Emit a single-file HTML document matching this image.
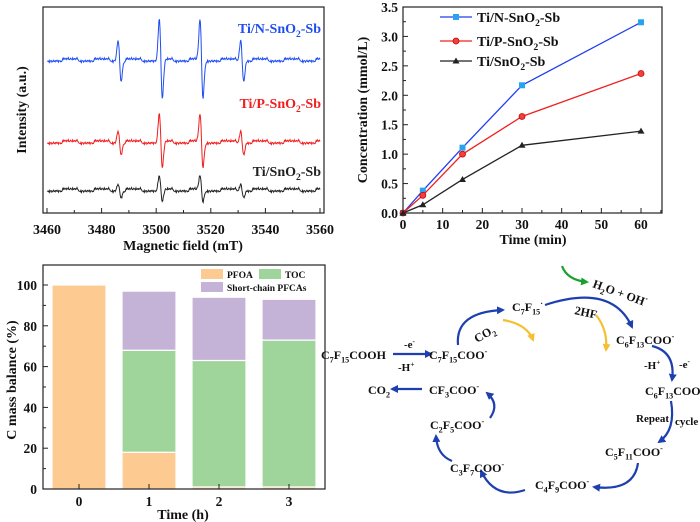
<!DOCTYPE html>
<html><head><meta charset="utf-8"><style>
html,body{margin:0;padding:0;background:#fff}
svg{display:block;font-family:"Liberation Serif",serif;font-weight:bold}
</style></head><body>
<svg id="fig" width="700" height="522" viewBox="0 0 700 522" xmlns="http://www.w3.org/2000/svg">
<defs>
<marker id="ab" markerWidth="8" markerHeight="8" refX="6" refY="4" orient="auto" markerUnits="userSpaceOnUse"><path d="M0,0 L8,4 L0,8 Z" fill="#1d3fb0"/></marker>
<marker id="ay" markerWidth="8" markerHeight="8" refX="6" refY="4" orient="auto" markerUnits="userSpaceOnUse"><path d="M0,0 L8,4 L0,8 Z" fill="#f5c030"/></marker>
<marker id="ag" markerWidth="8" markerHeight="8" refX="6" refY="4" orient="auto" markerUnits="userSpaceOnUse"><path d="M0,0 L8,4 L0,8 Z" fill="#1aa030"/></marker>
</defs>
<g id="epr"></g>
<g id="conc"></g>
<g id="bal"></g>
<g id="mech"></g>
</svg>
<script>
// ---- EPR data ----
const eprPeaks = [3486.6, 3501.7, 3516.6, 3531.5];
const eprSeries = ['Ti/N-SnO2-Sb','Ti/P-SnO2-Sb','Ti/SnO2-Sb'];
const eprAmpN = [0.52, 1.0, 1.0, 0.52];
const eprAmpP = [0.30, 0.68, 0.68, 0.30];
const eprAmpS = [0.17, 0.32, 0.34, 0.17];
const eprOffsets = [3.25, 1.2, 0];
const eprNoise = [0.05,-0.04,0.07,-0.06,0.02,-0.08,0.06,-0.02,0.04,-0.07,0.08,-0.03,0.01,-0.05,0.06,-0.06,0.03,-0.01,0.07,-0.04,0.02,-0.07,0.05,-0.03,0.04,-0.06,0.08,-0.05,0.01];
const eprTicks = [3460,3480,3500,3520,3540,3560];
// ---- Concentration data ----
const concTime = [0,5,15,30,60];
const concN = [0,0.38,1.11,2.17,3.24];
const concP = [0,0.30,1.00,1.64,2.37];
const concS = [0,0.14,0.57,1.15,1.39];
const concXTicks = [0,10,20,30,40,50,60];
const concYTicks = [0,0.5,1.0,1.5,2.0,2.5,3.0,3.5];
// ---- Mass balance data ----
const balCats = ['0','1','2','3'];
const balPFOA = [100,18,1,1];
const balTOC = [0,50,62,72];
const balShort = [0,29,31,20];
const balYTicks = [0,20,40,60,80,100];

const NS='http://www.w3.org/2000/svg';
function mk(parent,tag,attrs,text){const e=document.createElementNS(NS,tag);for(const k in attrs)e.setAttribute(k,attrs[k]);if(text!==undefined)e.textContent=text;parent.appendChild(e);return e;}
function chem(parent,x,y,s,size,color,anchor,rot){
  const t=mk(parent,'text',{x:x,y:y,'font-size':size,fill:color||'#111','text-anchor':anchor||'start'});
  if(rot)t.setAttribute('transform','rotate('+rot+' '+x+' '+y+')');
  const re=/([_^])(\{[^}]*\}|.)|([^_^]+)/g;let m;let cur=0;
  while((m=re.exec(s))){
    if(m[3]){mk(t,'tspan',{dy:-cur},m[3]);cur=0;}
    else{const v=m[2].replace(/[{}]/g,'');const d=m[1]==='_'?size*0.3:-size*0.4;mk(t,'tspan',{dy:d-cur,'font-size':size*0.68},v);cur=d;}
  }
  return t;
}

// ===== EPR panel =====
(function(){
  const g=document.getElementById('epr');
  const L=43,R=324,T=7,B=213;
  const xs=f=>47+(f-3460)*2.73;
  const ys=v=>190-v*40;
  const fr=mk(g,'rect',{x:L,y:T,width:R-L,height:B-T,fill:'none',stroke:'#222','stroke-width':1.2});
  
  
  for(let f=3460;f<=3560;f+=10){const maj=f%20===0;mk(g,'line',{x1:xs(f),x2:xs(f),y1:B,y2:B-(maj?5:3),stroke:'#222'});}
  eprTicks.forEach(f=>{const t=mk(g,'text',{x:xs(f),y:234,'font-size':14,'text-anchor':'middle',fill:'#111'},f);
    
    });
  const xt=mk(g,'text',{x:183,y:250,'font-size':14,'text-anchor':'middle',fill:'#111'},'Magnetic field (mT)');
  
  
  const yt=mk(g,'text',{x:26,y:110,'font-size':14,'text-anchor':'middle',fill:'#111',transform:'rotate(-90 26 110)'},'Intensity (a.u.)');
  
  
  const amps=[eprAmpN,eprAmpP,eprAmpS];
  const cols=['#1f4ef0','#f01e1e','#222'];
  const w=0.55;
  amps.forEach((amp,si)=>{
    let d='';let k=0;
    for(let f=3460;f<=3560.001;f+=0.2,k++){
      let v=eprOffsets[si]+eprNoise[k%eprNoise.length]*0.75*(k%2?1:-0.6);
      eprPeaks.forEach((p,i)=>{const u=(f-p)/w;v+=-amp[i]/0.607*u*Math.exp(-u*u/2);});
      d+=(d?'L':'M')+xs(f).toFixed(1)+','+ys(v).toFixed(1);
    }
    const p=mk(g,'path',{d:d,fill:'none',stroke:cols[si],'stroke-width':1});
    
    
  });
  const labY=[33,108,176];
  eprSeries.forEach((s,i)=>{const t=chem(g,321,labY[i],s.replace('O2','O_2'),14,cols[i],'end');
    
    });
})();

// ===== Concentration panel =====
(function(){
  const g=document.getElementById('conc');
  const L=403,R=662,T=7,B=213;
  const xs=t=>403+t*3.967;
  const ys=v=>213-v*58.86;
  const fr=mk(g,'rect',{x:L,y:T,width:R-L,height:B-T,fill:'none',stroke:'#222','stroke-width':1.2});
  
  
  for(let t=0;t<=65;t+=5){if(xs(t)<R)mk(g,'line',{x1:xs(t),x2:xs(t),y1:B,y2:B-(t%10===0?5:3),stroke:'#222'});}
  for(let v=0;v<=3.5;v+=0.25){mk(g,'line',{x1:L,x2:L+(Math.abs(v*2-Math.round(v*2))<1e-6?5:3),y1:ys(v),y2:ys(v),stroke:'#222'});}
  concXTicks.forEach(t=>{const e=mk(g,'text',{x:xs(t),y:229,'font-size':13.5,'text-anchor':'middle',fill:'#111'},t);
    
    });
  concYTicks.forEach(v=>{const e=mk(g,'text',{x:398,y:ys(v)+5,'font-size':13.5,'text-anchor':'end',fill:'#111'},v.toFixed(1));
    
    });
  const xt=mk(g,'text',{x:533,y:244,'font-size':14,'text-anchor':'middle',fill:'#111'},'Time (min)');
  
  
  const yt=mk(g,'text',{x:367,y:110,'font-size':14,'text-anchor':'middle',fill:'#111',transform:'rotate(-90 367 110)'},'Concentration (mmol/L)');
  
  
  const series=[[concN,'#1f3ff0','#29a3f0','sq'],[concP,'#f02020','#f04040','ci'],[concS,'#222','#222','tr']];
  function marker(x,y,type,c){
    if(type==='sq')return mk(g,'rect',{x:x-3,y:y-3,width:6,height:6,fill:c});
    if(type==='ci')return mk(g,'circle',{cx:x,cy:y,r:3,fill:c,stroke:'#c00','stroke-width':0.8});
    return mk(g,'path',{d:`M${x},${y-3.5}L${x+3.5},${y+2.5}L${x-3.5},${y+2.5}Z`,fill:c});
  }
  series.forEach(([vals,lc,mc,type],si)=>{
    const d=vals.map((v,i)=>(i?'L':'M')+xs(concTime[i])+','+ys(v)).join('');
    const p=mk(g,'path',{d:d,fill:'none',stroke:lc,'stroke-width':1.3});
    
    
    vals.forEach((v,i)=>{const m=marker(xs(concTime[i]),ys(v),type,mc);
      
      });
  });
  const names=['Ti/N-SnO_2-Sb','Ti/P-SnO_2-Sb','Ti/SnO_2-Sb'];
  const ly=[17,41,61];
  series.forEach(([vals,lc,mc,type],i)=>{
    mk(g,'line',{x1:440,x2:472,y1:ly[i],y2:ly[i],stroke:lc,'stroke-width':1.3});
    marker(456,ly[i],type,mc);
    const t=chem(g,477,ly[i]+5,names[i],14,'#111');
    
    
  });
})();

// ===== Mass balance panel =====
(function(){
  const g=document.getElementById('bal');
  const L=43,R=325,T=265,B=489;
  const ys=v=>489-v*2.04;
  const xc=i=>79+i*70;
  const bw=54;
  const cols=['#fdca92','#9fd59b','#c5b3d7'];
  balCats.forEach((c,i)=>{
    const segs=[balPFOA[i],balTOC[i],balShort[i]];
    let base=0;
    segs.forEach((v,s)=>{
      if(v>0){const r=mk(g,'rect',{x:xc(i)-bw/2,y:ys(base+v),width:bw,height:v*2.04,fill:cols[s],stroke:'#fff','stroke-width':1.2});
        
        }
      base+=v;
    });
  });
  const fr=mk(g,'rect',{x:L,y:T,width:R-L,height:B-T,fill:'none',stroke:'#222','stroke-width':1.2});
  
  
  for(let v=0;v<=100;v+=10)mk(g,'line',{x1:L,x2:L+(v%20===0?5:3),y1:ys(v),y2:ys(v),stroke:'#222'});
  balCats.forEach((c,i)=>{mk(g,'line',{x1:xc(i),x2:xc(i),y1:B,y2:B-5,stroke:'#222'});
    const t=mk(g,'text',{x:xc(i),y:506,'font-size':13.5,'text-anchor':'middle',fill:'#111'},c);
    
    });
  balYTicks.forEach(v=>{const t=mk(g,'text',{x:37,y:ys(v)+5,'font-size':13.5,'text-anchor':'end',fill:'#111'},v);
    
    });
  const xt=mk(g,'text',{x:183,y:519,'font-size':14,'text-anchor':'middle',fill:'#111'},'Time (h)');
  
  
  const yt=mk(g,'text',{x:16,y:380,'font-size':14,'text-anchor':'middle',fill:'#111',transform:'rotate(-90 16 380)'},'C mass balance (%)');
  
  
  const leg=[[201,269,'PFOA'],[259,269,'TOC'],[201,282,'Short-chain PFCAs']];
  leg.forEach(([x,y,n],i)=>{mk(g,'rect',{x:x,y:y,width:22,height:10,fill:cols[i]});
    const t=mk(g,'text',{x:x+26,y:y+9,'font-size':9.5,fill:'#111'},n);
    
    });
})();

// ===== Mechanism diagram =====
(function(){
  const g=document.getElementById('mech');
  const B='#1d3fb0';
  function arc(d,c,m){const p=mk(g,'path',{d:d,fill:'none',stroke:c,'stroke-width':2.2,'marker-end':'url(#'+m+')'});
    
    }
  function lab(x,y,s,rot,sz){const t=chem(g,x,y,s,sz||12,'#111','start',rot);
    
    }
  arc('M562,266 Q567,280 587,282','#1aa030','ag');
  lab(592,287,'H_2O + OH^·',20,12);
  lab(512,311,'C_7F_{15}^·');
  lab(574,314,'2HF',12);
  lab(477,343,'CO_2',-30);
  arc('M503,320 Q527,324 533,340','#f5c030','ay');
  arc('M596,315 Q608,330 606,350','#f5c030','ay');
  arc('M458,345 Q455,312 503,310',B,'ab');
  arc('M545,305 Q612,283 632,327',B,'ab');
  lab(616,344,'C_6F_{13}COO^-');
  lab(321,359,'C_7F_{15}COOH');
  arc('M393,354 L431,354',B,'ab');
  lab(404,348,'-e^-',0,11);
  lab(398,371,'-H^+',0,11);
  lab(429,359,'C_7F_{15}COO^-');
  lab(644,369,'-H^+',0,11);
  lab(679,368,'-e^-',0,11);
  arc('M652,346 Q676,352 672,380',B,'ab');
  lab(645,395,'C_6F_{13}COO^-');
  lab(636,422,'Repeat',0,11);
  lab(675,425,'cycle',0,11);
  arc('M671,401 Q676,430 659,442',B,'ab');
  lab(605,456,'C_5F_{11}COO^-');
  arc('M638,463 Q634,492 594,487',B,'ab');
  lab(535,489,'C_4F_9COO^-');
  arc('M525,490 Q495,500 481,471',B,'ab');
  lab(450,472,'C_3F_7COO^-');
  arc('M452,461 Q437,455 436,436',B,'ab');
  lab(430,429,'C_2F_5COO^-');
  arc('M490,418 Q500,404 487,393',B,'ab');
  lab(429,394,'CF_3COO^-');
  arc('M422,389 L392,389',B,'ab');
  lab(368,394,'CO_2');
})();
</script>
</body></html>
